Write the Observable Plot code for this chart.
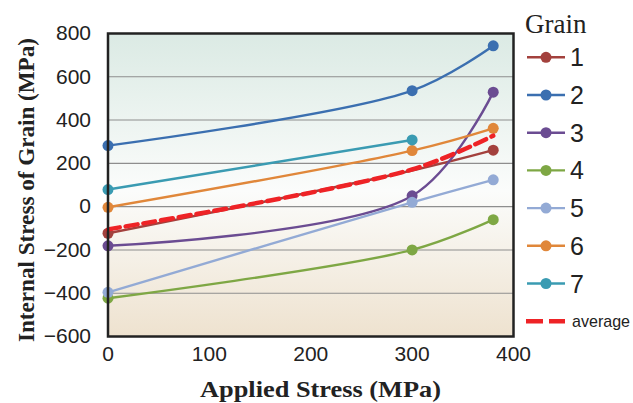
<!DOCTYPE html>
<html><head><meta charset="utf-8">
<script src="https://cdn.jsdelivr.net/npm/d3@7"></script>
<script src="https://cdn.jsdelivr.net/npm/@observablehq/plot@0.6"></script>
<style>
body{margin:0;background:#fff;}
#wrap{position:relative;width:633px;height:403px;}
</style></head><body><div id="wrap"></div>
<script>
const applied = [0, 300, 380];
const grainNames = ["1","2","3","4","5","6","7"];
const grain1 = [-123, 167, 261];
const grain2 = [282, 536, 743];
const grain3 = [-181, 50, 529];
const grain4 = [-423, -200, -60];
const grain5 = [-396, 20, 124];
const grain6 = [-3, 259, 362];
const grain7 = [79, 308];
const average = [-105, 172, 328];
const grainColors = ["#a3413d","#3b6fb0","#6b4c92","#7ea744","#93aad5","#e0873a","#3a9bb2"];
const avgColor = "#ee2326";
const xTicks = [0,100,200,300,400];
const yTicks = [-600,-400,-200,0,200,400,600,800];
const legendTitle = "Grain";
const avgLabel = "average";
const xTitle = "Applied Stress (MPa)";
const yTitle = "Internal Stress of Grain (MPa)";

const series = [grain1,grain2,grain3,grain4,grain5,grain6,grain7];
const rows = [];
series.forEach((vals,i)=>vals.forEach((v,j)=>rows.push({grain:grainNames[i], x:applied[j], y:v})));
const avgRows = average.map((v,j)=>({x:applied[j], y:v}));
const colorOf = Object.fromEntries(grainNames.map((g,i)=>[g,grainColors[i]]));
const dotRows = rows.filter(d=>!(d.grain==="1" && d.x===300));
const fmtY = d=>d<0?"\u2212"+Math.abs(d):String(d);

const W=633,H=403;
const chart = Plot.plot({
  width:W, height:H,
  marginLeft:107.5, marginRight:120, marginTop:33, marginBottom:67,
  style:{fontFamily:"'Liberation Sans', Arial, sans-serif", fontSize:"21px", color:"#222", background:"transparent"},
  x:{domain:[0,400], label:null},
  y:{domain:[-600,800], label:null},
  marks:[
    Plot.frame({fill:"url(#bggrad)"}),
    Plot.gridY(yTicks,{stroke:"#8e8e8e", strokeOpacity:1, strokeWidth:1.1}),
    Plot.line(rows,{x:"x", y:"y", z:"grain", stroke:d=>colorOf[d.grain], strokeWidth:2.4, curve:"catmull-rom"}),
    Plot.dot(dotRows,{x:"x", y:"y", fill:d=>colorOf[d.grain], r:5.5}),
    Plot.line(avgRows,{x:"x", y:"y", stroke:avgColor, strokeWidth:4.5, strokeDasharray:"12,6", curve:"catmull-rom"}),
    Plot.frame({stroke:"#222", strokeWidth:2.5}),
    Plot.axisX({ticks:xTicks, tickSize:0, tickPadding:10, fontSize:21, label:null}),
    Plot.axisY({ticks:yTicks, tickSize:0, tickPadding:17, fontSize:21, tickFormat:fmtY, label:null})
  ]
});
document.getElementById("wrap").appendChild(chart);
const svg = d3.select(chart);
const defs = svg.insert("defs",":first-child");
const g = defs.append("linearGradient").attr("id","bggrad").attr("x1",0).attr("y1",0).attr("x2",0).attr("y2",1);
g.append("stop").attr("offset","0%").attr("stop-color","#dbeae4");
g.append("stop").attr("offset","52%").attr("stop-color","#fbfcfb");
g.append("stop").attr("offset","100%").attr("stop-color","#eee2cf");

const serif = "'Liberation Serif', 'Times New Roman', serif";
const sans = "'Liberation Sans', Arial, sans-serif";
svg.append("text").attr("x",320.5).attr("y",397).attr("text-anchor","middle")
  .attr("font-family",serif).attr("font-weight","bold").attr("font-size",23).attr("fill","#222")
  .attr("textLength",241).attr("lengthAdjust","spacingAndGlyphs").text(xTitle);
svg.append("text").attr("transform","translate(34,190) rotate(-90)").attr("text-anchor","middle")
  .attr("font-family",serif).attr("font-weight","bold").attr("font-size",23).attr("fill","#222")
  .attr("textLength",304).attr("lengthAdjust","spacingAndGlyphs").text(yTitle);

// legend
const lg = svg.append("g").attr("text-anchor","start");
lg.append("text").attr("x",525).attr("y",33).attr("font-family",serif).attr("font-size",27).attr("fill","#222").text(legendTitle);
const step = 37.7, y0 = 57.3;
grainNames.forEach((nm,i)=>{
  const yy = y0 + i*step;
  lg.append("line").attr("x1",527).attr("x2",565).attr("y1",yy).attr("y2",yy).attr("stroke",grainColors[i]).attr("stroke-width",2.4);
  lg.append("circle").attr("cx",546).attr("cy",yy).attr("r",5.5).attr("fill",grainColors[i]);
  lg.append("text").attr("x",570).attr("y",yy).attr("dy","0.36em").attr("font-family",sans).attr("font-size",25).attr("fill","#222").text(nm);
});
const ya = y0 + 7*step;
lg.append("line").attr("x1",526).attr("x2",565).attr("y1",ya).attr("y2",ya).attr("stroke",avgColor).attr("stroke-width",4.5).attr("stroke-dasharray","17,6");
lg.append("text").attr("x",572).attr("y",ya).attr("dy","0.36em").attr("font-family",sans).attr("font-size",17).attr("fill","#222").attr("textLength",58).attr("lengthAdjust","spacingAndGlyphs").text(avgLabel);
</script></body></html>
